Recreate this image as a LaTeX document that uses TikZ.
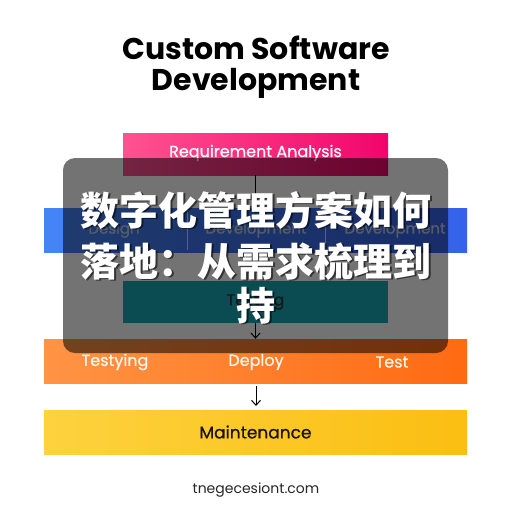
\documentclass[tikz,border=0pt]{standalone}
\usepackage{fontspec}
\setmainfont{Poppins}
\newfontfamily\lblfont{Poppins}[FakeBold=0.8]
\newfontfamily\cjk{Noto Sans CJK SC}
\usetikzlibrary{arrows.meta}
\definecolor{pinkL}{HTML}{FF5290}
\definecolor{pinkR}{HTML}{F2056C}
\definecolor{blueL}{HTML}{4584F6}
\definecolor{blueR}{HTML}{3562EA}
\definecolor{tealC}{HTML}{1AAAB8}
\definecolor{orangeL}{HTML}{FF9444}
\definecolor{orangeR}{HTML}{FF6A12}
\definecolor{yellowL}{HTML}{FDD23E}
\definecolor{yellowR}{HTML}{FBBE12}
\definecolor{bluetext}{HTML}{C4CEE6}
\tikzset{
  box/.style={draw=none, inner sep=0pt, minimum height=42pt, minimum width=265pt},
  bar/.style={draw=none, inner sep=0pt, minimum height=44pt, minimum width=423pt},
  lbl/.style={font=\lblfont\fontsize{16}{18}\selectfont, inner sep=0pt},
  conn/.style={line width=1pt, black},
  arr/.style={line width=1pt, black, -{Straight Barb[length=5pt,width=9pt]}},
  cjktext/.style={font=\cjk\bfseries\fontsize{39}{47}\selectfont, inner sep=0pt, anchor=base}
}
\begin{document}
\begin{tikzpicture}[x=1pt,y=-1pt]
\useasboundingbox[fill=white] (0,0) rectangle (512,512);
% title
\node[font=\bfseries\fontsize{30}{32}\selectfont, anchor=base, inner sep=0pt] (t1) at (256,59.5) {Custom Software};
\node[font=\bfseries\fontsize{30}{32}\selectfont, anchor=base, inner sep=0pt] (t2) at (256,90.5) {Development};
% pink
\node[box, left color=pinkL, right color=pinkR] (req) at (255.5,154) {};
\node[lbl, text=white!92!pink] (reqt) at (255.5,153) {Requirement Analysis};
% blue bar
\node[bar, left color=blueL, right color=blueR] (des) at (255.5,230) {};
\draw[white!70!blueL, line width=0.6pt] (187,210) -- (187,250) (325,210) -- (325,250);
\node[lbl, text=bluetext, font=\lblfont\fontsize{15}{17}\selectfont] (d1) at (114,230) {Design};
\node[lbl, text=bluetext, font=\lblfont\fontsize{15}{17}\selectfont] (d2) at (256,230) {Development};
\node[lbl, text=bluetext, font=\lblfont\fontsize{15}{17}\selectfont] (d3) at (395,230) {Development};
% teal
\node[box, fill=tealC] (test) at (255.5,301.5) {};
\node[lbl, text=black!80] (testt) at (test.center) {Testing};
% orange bar
\node[bar, left color=orangeL, right color=orangeR] (dep) at (255.5,361) {};
\node[lbl, text=white!92!orange] (o1) at (115,362) {Testying};
\node[lbl, text=white!92!orange] (o2) at (256,362) {Deploy};
\node[lbl, text=white!92!orange] (o3) at (392,362) {Test};
% yellow bar
\node[bar, left color=yellowL, right color=yellowR] (main) at (255.5,432) {};
\node[lbl, text=black!85!brown, font=\lblfont\fontsize{17}{19}\selectfont] (maint) at (main.center) {Maintenance};
% connectors
\draw[conn] (req.south) -- (des.north);
\draw[arr] (test.south) -- (dep.north);
\coordinate (a1) at (256,386);
\coordinate (a2) at (256,406);
\draw[arr] (a1) -- (a2);
% footer
\node[font=\fontsize{14}{16}\selectfont, text=black!85, inner sep=0pt] (foot) at (256,490) {tnegecesiont.com};
% overlay
\fill[black, opacity=0.55, rounded corners=12pt] (63,158) rectangle (448,353);
\foreach \t/\y in {{数字化管理方案如何}/225, {落地：从需求梳理到}/276, {持}/320} {
  \node[cjktext, text=black, opacity=0.55] at (257.8,\y+1.8) {\t};
  \node[cjktext, text=white] at (256,\y) {\t};
}
\end{tikzpicture}
\end{document}
